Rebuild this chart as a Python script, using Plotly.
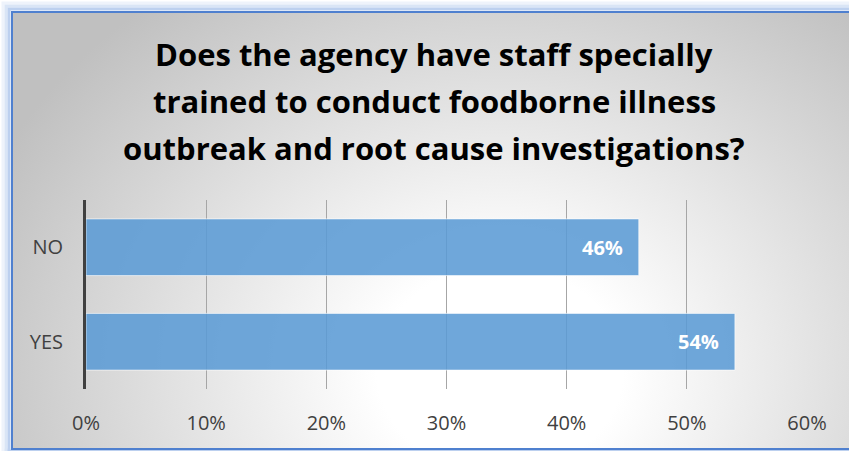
import base64
import plotly.graph_objects as go

# ---- data ----
categories = ["NO", "YES"]
values = [0.46, 0.54]
title_lines = [
    "Does the agency have staff specially",
    "trained to conduct foodborne illness",
    "outbreak and root cause investigations?",
]

W, H = 849, 451
L, R, T, B = 86, 42, 200, 62
PW, PH = W - L - R, H - T - B

# background (radial gradient + blue border with glow)
svg = f'''<svg xmlns="http://www.w3.org/2000/svg" width="{W}" height="{H}" viewBox="0 0 {W} {H}" preserveAspectRatio="none">
<defs>
<radialGradient id="g" gradientUnits="userSpaceOnUse" cx="0" cy="0" r="1" gradientTransform="translate(500 370) scale(560 470)">
<stop offset="0" stop-color="#ffffff"/>
<stop offset="0.22" stop-color="#ffffff"/>
<stop offset="1" stop-color="#c0c0c0"/>
</radialGradient>
</defs>
<rect x="0" y="0" width="{W}" height="{H}" fill="#ffffff"/>
<rect x="3" y="3" width="900" height="447" fill="none" stroke="#eef3fb" stroke-width="3"/>
<rect x="6" y="6" width="900" height="445" fill="none" stroke="#d9e5f6" stroke-width="3"/>
<rect x="9" y="9" width="900" height="442" fill="none" stroke="#bcd0ef" stroke-width="3"/>
<rect x="12" y="12" width="900" height="437" fill="url(#g)"/>
<rect x="12" y="12" width="900" height="437" fill="none" stroke="#4f80cf" stroke-width="2"/>
</svg>'''
bg_uri = "data:image/svg+xml;base64," + base64.b64encode(svg.encode()).decode()

fig = go.Figure()
fig.add_trace(go.Bar(
    x=values, y=categories, orientation="h",
    marker=dict(color="rgba(91,155,213,0.88)",
                line=dict(color="rgba(255,255,255,0.6)", width=1)),
    hoverinfo="skip", showlegend=False,
))

annotations = []
# data labels
for c, v in zip(categories, values):
    annotations.append(dict(
        x=v, y=c, xref="x", yref="y", text=f"<b>{round(v*100)}%</b>",
        showarrow=False, xanchor="right", yanchor="middle", xshift=-14,
        font=dict(family="Open Sans", size=20, color="#ffffff"),
    ))
# title lines
title_centers_px = [54, 101, 148]
for line, py in zip(title_lines, title_centers_px):
    annotations.append(dict(
        x=(434 - L) / PW, y=1 + (T - py) / PH, xref="paper", yref="paper",
        text=f"<b>{line}</b>", showarrow=False, xanchor="center", yanchor="middle",
        font=dict(family="Open Sans", size=31, color="#000000"),
    ))

fig.update_layout(
    width=W, height=H,
    margin=dict(l=L, r=R, t=T, b=B, pad=0),
    paper_bgcolor="#ffffff", plot_bgcolor="rgba(0,0,0,0)",
    bargap=0.4,
    annotations=annotations,
    images=[dict(source=bg_uri, xref="paper", yref="paper",
                 x=-L / PW, y=1 + T / PH, sizex=W / PW, sizey=H / PH,
                 xanchor="left", yanchor="top", sizing="stretch", layer="below")],
    xaxis=dict(range=[0, 0.6], dtick=0.1, tickformat=".0%", showgrid=True,
               gridcolor="#a6a6a6", gridwidth=1, zeroline=False, showline=False,
               ticks="", ticklabelstandoff=20,
               tickfont=dict(family="Open Sans", size=20, color="#404040"),
               fixedrange=True),
    yaxis=dict(autorange="reversed", showline=True, linecolor="#404040", linewidth=3,
               showgrid=False, ticks="", ticklabelstandoff=16,
               tickfont=dict(family="Open Sans", size=20, color="#404040"),
               fixedrange=True),
)

fig.write_html(
    "out.html",
    config={"displayModeBar": False},
    post_script="document.body.style.margin='0';document.body.style.overflow='hidden';",
)
